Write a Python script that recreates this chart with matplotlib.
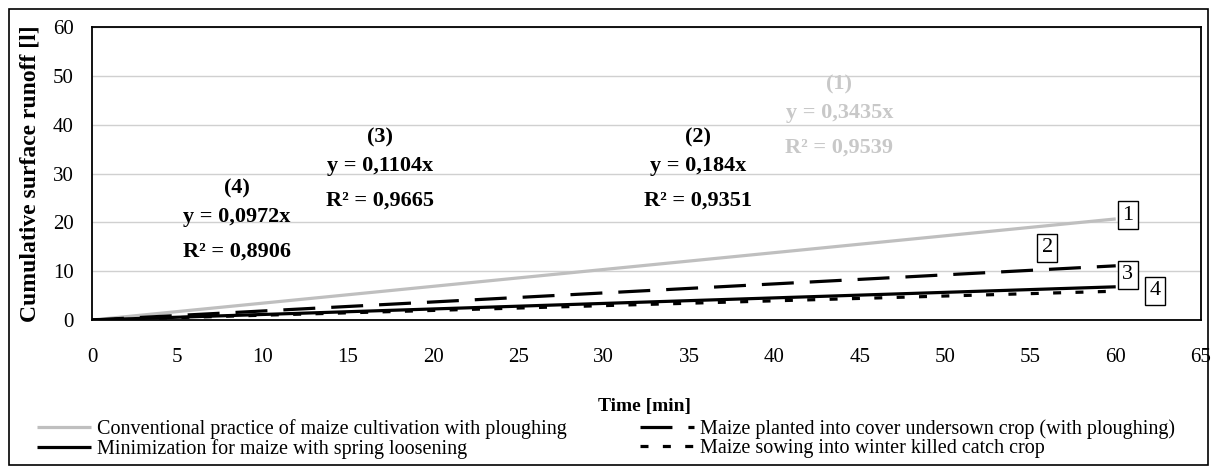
import matplotlib.pyplot as plt
from matplotlib.patches import Rectangle

plt.rcParams['font.family'] = ['Liberation Serif', 'DejaVu Serif']

# time [min] and cumulative runoff [l] of the four trend lines
time = [0, 60]
conventional = [0, 20.7]
undersown = [0, 11.1]
minimization = [0, 6.8]
catch_crop = [0, 5.9]

names = ['Conventional practice of maize cultivation with ploughing',
         'Maize planted into cover undersown crop (with ploughing)',
         'Minimization for maize with spring loosening',
         'Maize sowing into winter killed catch crop']

eq_titles = ['(1)', '(2)', '(3)', '(4)']
eq_lines = ['y = 0,3435x', 'y = 0,184x', 'y = 0,1104x', 'y = 0,0972x']
r2_values = ['0,9539', '0,9351', '0,9665', '0,8906']
eq_pos = [(43.8, 48.2), (35.5, 37.4), (16.9, 37.4), (8.5, 27.0)]
eq_colors = ['#c8c8c8', 'black', 'black', 'black']

box_labels = ['1', '2', '3', '4']
box_pos = [(60.7, 21.5), (56.0, 14.8), (60.7, 9.3), (62.3, 6.0)]

fig = plt.figure(figsize=(12.15, 4.68), dpi=100)
ax = fig.add_axes([0.0757, 0.3162, 0.9128, 0.6261])

lw = 2.3
l1, = ax.plot(time, conventional, color='#bfbfbf', lw=lw, solid_capstyle='butt')
l2, = ax.plot(time, undersown, color='black', lw=lw, dashes=(10, 5))
l3, = ax.plot(time, minimization, color='black', lw=lw, solid_capstyle='butt')
l4, = ax.plot(time, catch_crop, color='black', lw=lw, dashes=(2.5, 4.5))

ax.set_xlim(0, 65)
ax.set_ylim(0, 60)
ax.set_xticks(range(0, 66, 5))
ax.set_yticks(range(0, 61, 10))
ax.tick_params(length=0, labelsize=15)
ax.tick_params(axis='x', pad=20)
ax.tick_params(axis='y', pad=13)
ax.grid(axis='y', color='#d0d0d0', lw=1)
ax.set_axisbelow(True)
for s in ax.spines.values():
    s.set_linewidth(1.3)

fig.text(644 / 1215, 1 - 406 / 468, 'Time [min]', ha='center', va='center',
         fontsize=14, fontweight='bold')
fig.text(30 / 1215, 1 - 174 / 468, 'Cumulative surface runoff [l]', ha='center',
         va='center', rotation=90, fontsize=17, fontweight='bold')

for (x, y), t, e, r, c in zip(eq_pos, eq_titles, eq_lines, r2_values, eq_colors):
    ax.text(x, y, t, ha='center', va='center', fontsize=16, fontweight='bold', color=c)
    ax.text(x, y - 5.9, e, ha='center', va='center', fontsize=16, fontweight='bold', color=c)
    ax.text(x, y - 12.9, 'R² = ' + r, ha='center', va='center',
            fontsize=16, fontweight='bold', color=c)

for (x, y), t in zip(box_pos, box_labels):
    ax.text(x, y, t, ha='center', va='center', fontsize=16,
            bbox=dict(boxstyle='square,pad=0.2', fc='white', ec='black', lw=1))

fig.legend([l1, l3, l2, l4], [names[0], names[2], names[1], names[3]],
           ncol=2, loc='upper left', bbox_to_anchor=(37 / 1215, 1 - 419 / 468),
           borderaxespad=0, borderpad=0,
           frameon=False, fontsize=14.5, handlelength=2.7, handletextpad=0.3,
           labelspacing=0.0, columnspacing=3.6)

fig.patches.append(Rectangle((0.0074, 0.0064), 0.987, 0.974, transform=fig.transFigure,
                             fill=False, ec='black', lw=1.2))

fig.savefig('out.png', dpi=100)
